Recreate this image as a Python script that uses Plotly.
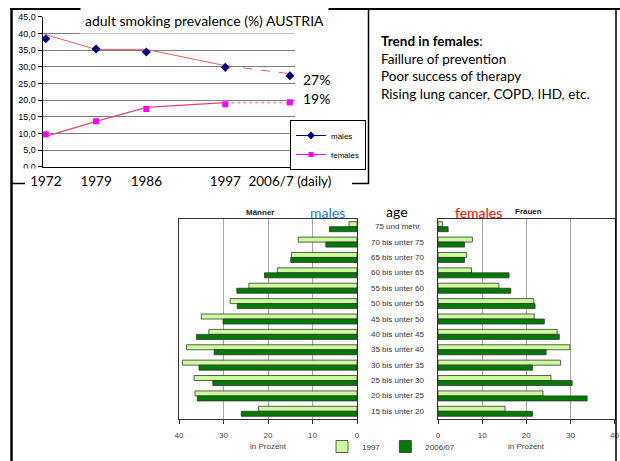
import plotly.graph_objects as go

# ---------------- data ----------------
years = [1972, 1979, 1986, 1997, 2006]
year_labels = ["1972", "1979", "1986", "1997", "2006/7 (daily)"]
males = [38.4, 35.3, 34.4, 29.8, 27.3]
females = [9.7, 13.6, 17.3, 18.7, 19.3]
males_trend = [39.6, 35.2, 35.2, 30.3]
males_trend_tail = [30.3, 27.9]
females_trend = [9.1, 13.6, 17.8, 19.2]
females_trend_tail = [19.2, 19.3]

ages = ["75 und mehr", "70 bis unter 75", "65 bis unter 70", "60 bis unter 65",
        "55 bis unter 60", "50 bis unter 55", "45 bis unter 50", "40 bis unter 45",
        "35 bis unter 40", "30 bis unter 35", "25 bis unter 30", "20 bis unter 25",
        "15 bis unter 20"]
men_1997 = [1.8, 13.2, 14.7, 17.9, 24.3, 28.5, 35.0, 33.3, 38.3, 39.2, 36.6, 36.4, 22.1]
men_2006 = [6.2, 7.0, 14.9, 20.8, 27.0, 26.9, 30.1, 36.1, 32.1, 35.5, 32.4, 35.9, 26.0]
women_1997 = [1.0, 7.8, 6.5, 7.6, 13.8, 21.7, 21.8, 27.0, 29.9, 27.8, 25.6, 23.8, 15.2]
women_2006 = [2.3, 6.0, 6.0, 16.1, 16.5, 22.0, 24.1, 27.5, 24.5, 21.4, 30.4, 33.8, 21.4]
pct_ticks = [0, 10, 20, 30, 40]

W, H = 620, 461
def px(x):
    return x / W
def py(y):
    return 1 - y / H

ARIAL = "Liberation Sans"
CAL = "Lato"
LIGHT = "#CCFF99"
DARK = "#007A00"

fig = go.Figure()

# ---- line chart ----
fig.add_trace(go.Scatter(x=years[:4], y=males_trend, mode="lines",
                         line=dict(color="#E06060", width=1), showlegend=False,
                         xaxis="x", yaxis="y"))
fig.add_trace(go.Scatter(x=years[3:], y=males_trend_tail, mode="lines",
                         line=dict(color="#E06060", width=1, dash="dash"),
                         showlegend=False, xaxis="x", yaxis="y"))
fig.add_trace(go.Scatter(x=years[:4], y=females_trend, mode="lines",
                         line=dict(color="#F0406A", width=1.2), showlegend=False,
                         xaxis="x", yaxis="y"))
fig.add_trace(go.Scatter(x=years[3:], y=females_trend_tail, mode="lines",
                         line=dict(color="#F7A0B0", width=2, dash="dot"),
                         showlegend=False, xaxis="x", yaxis="y"))
fig.add_trace(go.Scatter(x=years, y=males, mode="markers",
                         marker=dict(symbol="diamond", size=7, color="#000080"),
                         showlegend=False, xaxis="x", yaxis="y"))
fig.add_trace(go.Scatter(x=years, y=females, mode="markers",
                         marker=dict(symbol="square", size=6, color="#FF00FF"),
                         showlegend=False, xaxis="x", yaxis="y"))
# legend entries
fig.add_trace(go.Scatter(x=[None], y=[None], mode="lines+markers", name="males",
                         line=dict(color="#000080", width=1),
                         marker=dict(symbol="diamond", size=6, color="#000080"),
                         legend="legend", legendgroup="m", xaxis="x", yaxis="y"))
fig.add_trace(go.Scatter(x=[None], y=[None], mode="lines+markers", name="females",
                         line=dict(color="#FF00FF", width=1),
                         marker=dict(symbol="square", size=5, color="#FF00FF"),
                         legend="legend", legendgroup="f", xaxis="x", yaxis="y"))

# ---- pyramid ----
bar_line = dict(color="#333333", width=0.8)
fig.add_trace(go.Bar(y=ages, x=men_1997, orientation="h", name="1997",
                     marker=dict(color=LIGHT, line=bar_line),
                     xaxis="x2", yaxis="y2", legend="legend2"))
fig.add_trace(go.Bar(y=ages, x=men_2006, orientation="h", name="2006/07",
                     marker=dict(color=DARK, line=bar_line),
                     xaxis="x2", yaxis="y2", legend="legend2"))
fig.add_trace(go.Bar(y=ages, x=women_1997, orientation="h", name="1997",
                     marker=dict(color=LIGHT, line=bar_line), showlegend=False,
                     xaxis="x3", yaxis="y3"))
fig.add_trace(go.Bar(y=ages, x=women_2006, orientation="h", name="2006/07",
                     marker=dict(color=DARK, line=bar_line), showlegend=False,
                     xaxis="x3", yaxis="y3"))

pyr_x = dict(tickvals=pct_ticks, showgrid=True, gridcolor="#A6A6A6", gridwidth=1,
             showline=True, mirror=True, linecolor="#333333", linewidth=1,
             ticks="outside", ticklen=4, tickcolor="#333333",
             tickfont=dict(family=ARIAL, size=8, color="#404040"),
             ticklabelstandoff=4, zeroline=False, fixedrange=True)
pyr_y = dict(type="category", categoryarray=ages, autorange="reversed",
             showticklabels=False, showline=True, mirror=True,
             linecolor="#333333", linewidth=1, showgrid=False, ticks="")

fig.update_layout(
    width=W, height=H, margin=dict(l=0, r=0, t=0, b=0, autoexpand=False),
    paper_bgcolor="white", plot_bgcolor="white",
    separators=",.",
    barmode="group", bargap=0.35, bargroupgap=0,
    xaxis=dict(domain=[px(42.5), px(294.5)], range=[1971.54, 2006.64],
               tickvals=years, ticktext=year_labels, showgrid=False,
               showline=True, linecolor="black", linewidth=1, ticks="",
               tickfont=dict(family=CAL, size=13.5, color="black"),
               ticklabelstandoff=2, zeroline=False, anchor="y"),
    yaxis=dict(domain=[py(166.7), py(16.7)], range=[0, 45], dtick=5,
               tickformat=".1f", showgrid=True, gridcolor="#7F7F7F", gridwidth=1.3,
               showline=True, linecolor="black", linewidth=1, ticks="outside",
               ticklen=4, tickcolor="black",
               tickfont=dict(family=ARIAL, size=9, color="black"),
               zeroline=False, anchor="x"),
    xaxis2=dict(domain=[px(179), px(357)], range=[40, 0], anchor="y2", **pyr_x),
    yaxis2=dict(domain=[py(419), py(219)], anchor="x2", **pyr_y),
    xaxis3=dict(domain=[px(438), px(614.5)], range=[0, 40], anchor="y3", **pyr_x),
    yaxis3=dict(domain=[py(419), py(219)], anchor="x3", **pyr_y),
    legend=dict(x=px(290), y=py(120), xanchor="left", yanchor="top",
                bordercolor="black", borderwidth=1, bgcolor="white",
                font=dict(family=ARIAL, size=8, color="black"),
                traceorder="grouped", tracegroupgap=0, itemwidth=30),
    legend2=dict(orientation="h", x=px(322), y=0, xanchor="left",
                 yanchor="bottom", bgcolor="rgba(0,0,0,0)",
                 font=dict(family=ARIAL, size=8, color="#333333")),
    showlegend=True,
)

def note(text, x, y, size, color="black", family=CAL, xanchor="center", **kw):
    d = dict(text=text, x=px(x), y=py(y), xref="paper", yref="paper",
             xanchor=xanchor, yanchor="middle", showarrow=False,
             font=dict(family=family, size=size, color=color))
    d.update(kw)
    return d

ann = []
ann.append(note("adult smoking prevalence (%) AUSTRIA", 204, 21, 14,
                bgcolor="white", borderpad=4))
ann.append(note("27%", 301, 79, 14, xanchor="left"))
ann.append(note("19%", 301, 98, 14, xanchor="left"))
ann.append(dict(text="<b>Trend in females</b>:<br>Faillure of prevention<br>"
                     "Poor success of therapy<br>Rising lung cancer, COPD, IHD, etc.",
                x=px(379), y=py(31), xref="paper", yref="paper", xanchor="left",
                yanchor="top", align="left", showarrow=False,
                font=dict(family=CAL, size=13.5, color="black")))
for a in ages:
    ann.append(dict(text=a, x=px(397.5), y=a, xref="paper", yref="y2",
                    xanchor="center", yanchor="middle",
                    showarrow=False, font=dict(family=ARIAL, size=8, color="#333333")))
ann.append(note("<b>Männer</b>", 260, 212, 8, color="#222222", family=ARIAL))
ann.append(note("males", 327, 212, 14, color="#1F78D1"))
ann.append(note("age", 397, 211, 14))
ann.append(note("females", 478, 212, 14, color="#FF0000"))
ann.append(note("<b>Frauen</b>", 528, 211, 8, color="#222222", family=ARIAL))
for xr in ("x2", "x3"):
    ann.append(dict(text="in Prozent", x=20, y=py(446), xref=xr, yref="paper",
                    xanchor="center", yanchor="middle", showarrow=False,
                    font=dict(family=ARIAL, size=8, color="#404040")))
fig.update_layout(annotations=ann)

def line(x0, y0, x1, y1, w):
    return dict(type="line", xref="paper", yref="paper", x0=px(x0), y0=py(y0),
                x1=px(x1), y1=py(y1), line=dict(color="black", width=w), layer="above")

shapes = [
    line(10, 9, 620, 9, 2),
    line(11.5, 9, 11.5, 461, 2.5),
    line(368.5, 9, 368.5, 183.5, 1.5),
    line(11, 183.5, 25, 183.5, 1.5),
    line(352, 183.5, 369, 183.5, 1.5),
    line(616, 9, 616, 461, 1.5),
    dict(type="rect", xref="paper", yref="paper", x0=px(14), x1=px(41),
         y0=py(168.5), y1=py(174), fillcolor="white", line=dict(width=0), layer="above"),
]
fig.update_layout(shapes=shapes)

fig.write_html("out.html", config={"displayModeBar": False},
               post_script="document.body.style.margin='0px';"
                           "document.body.style.overflow='hidden';")
